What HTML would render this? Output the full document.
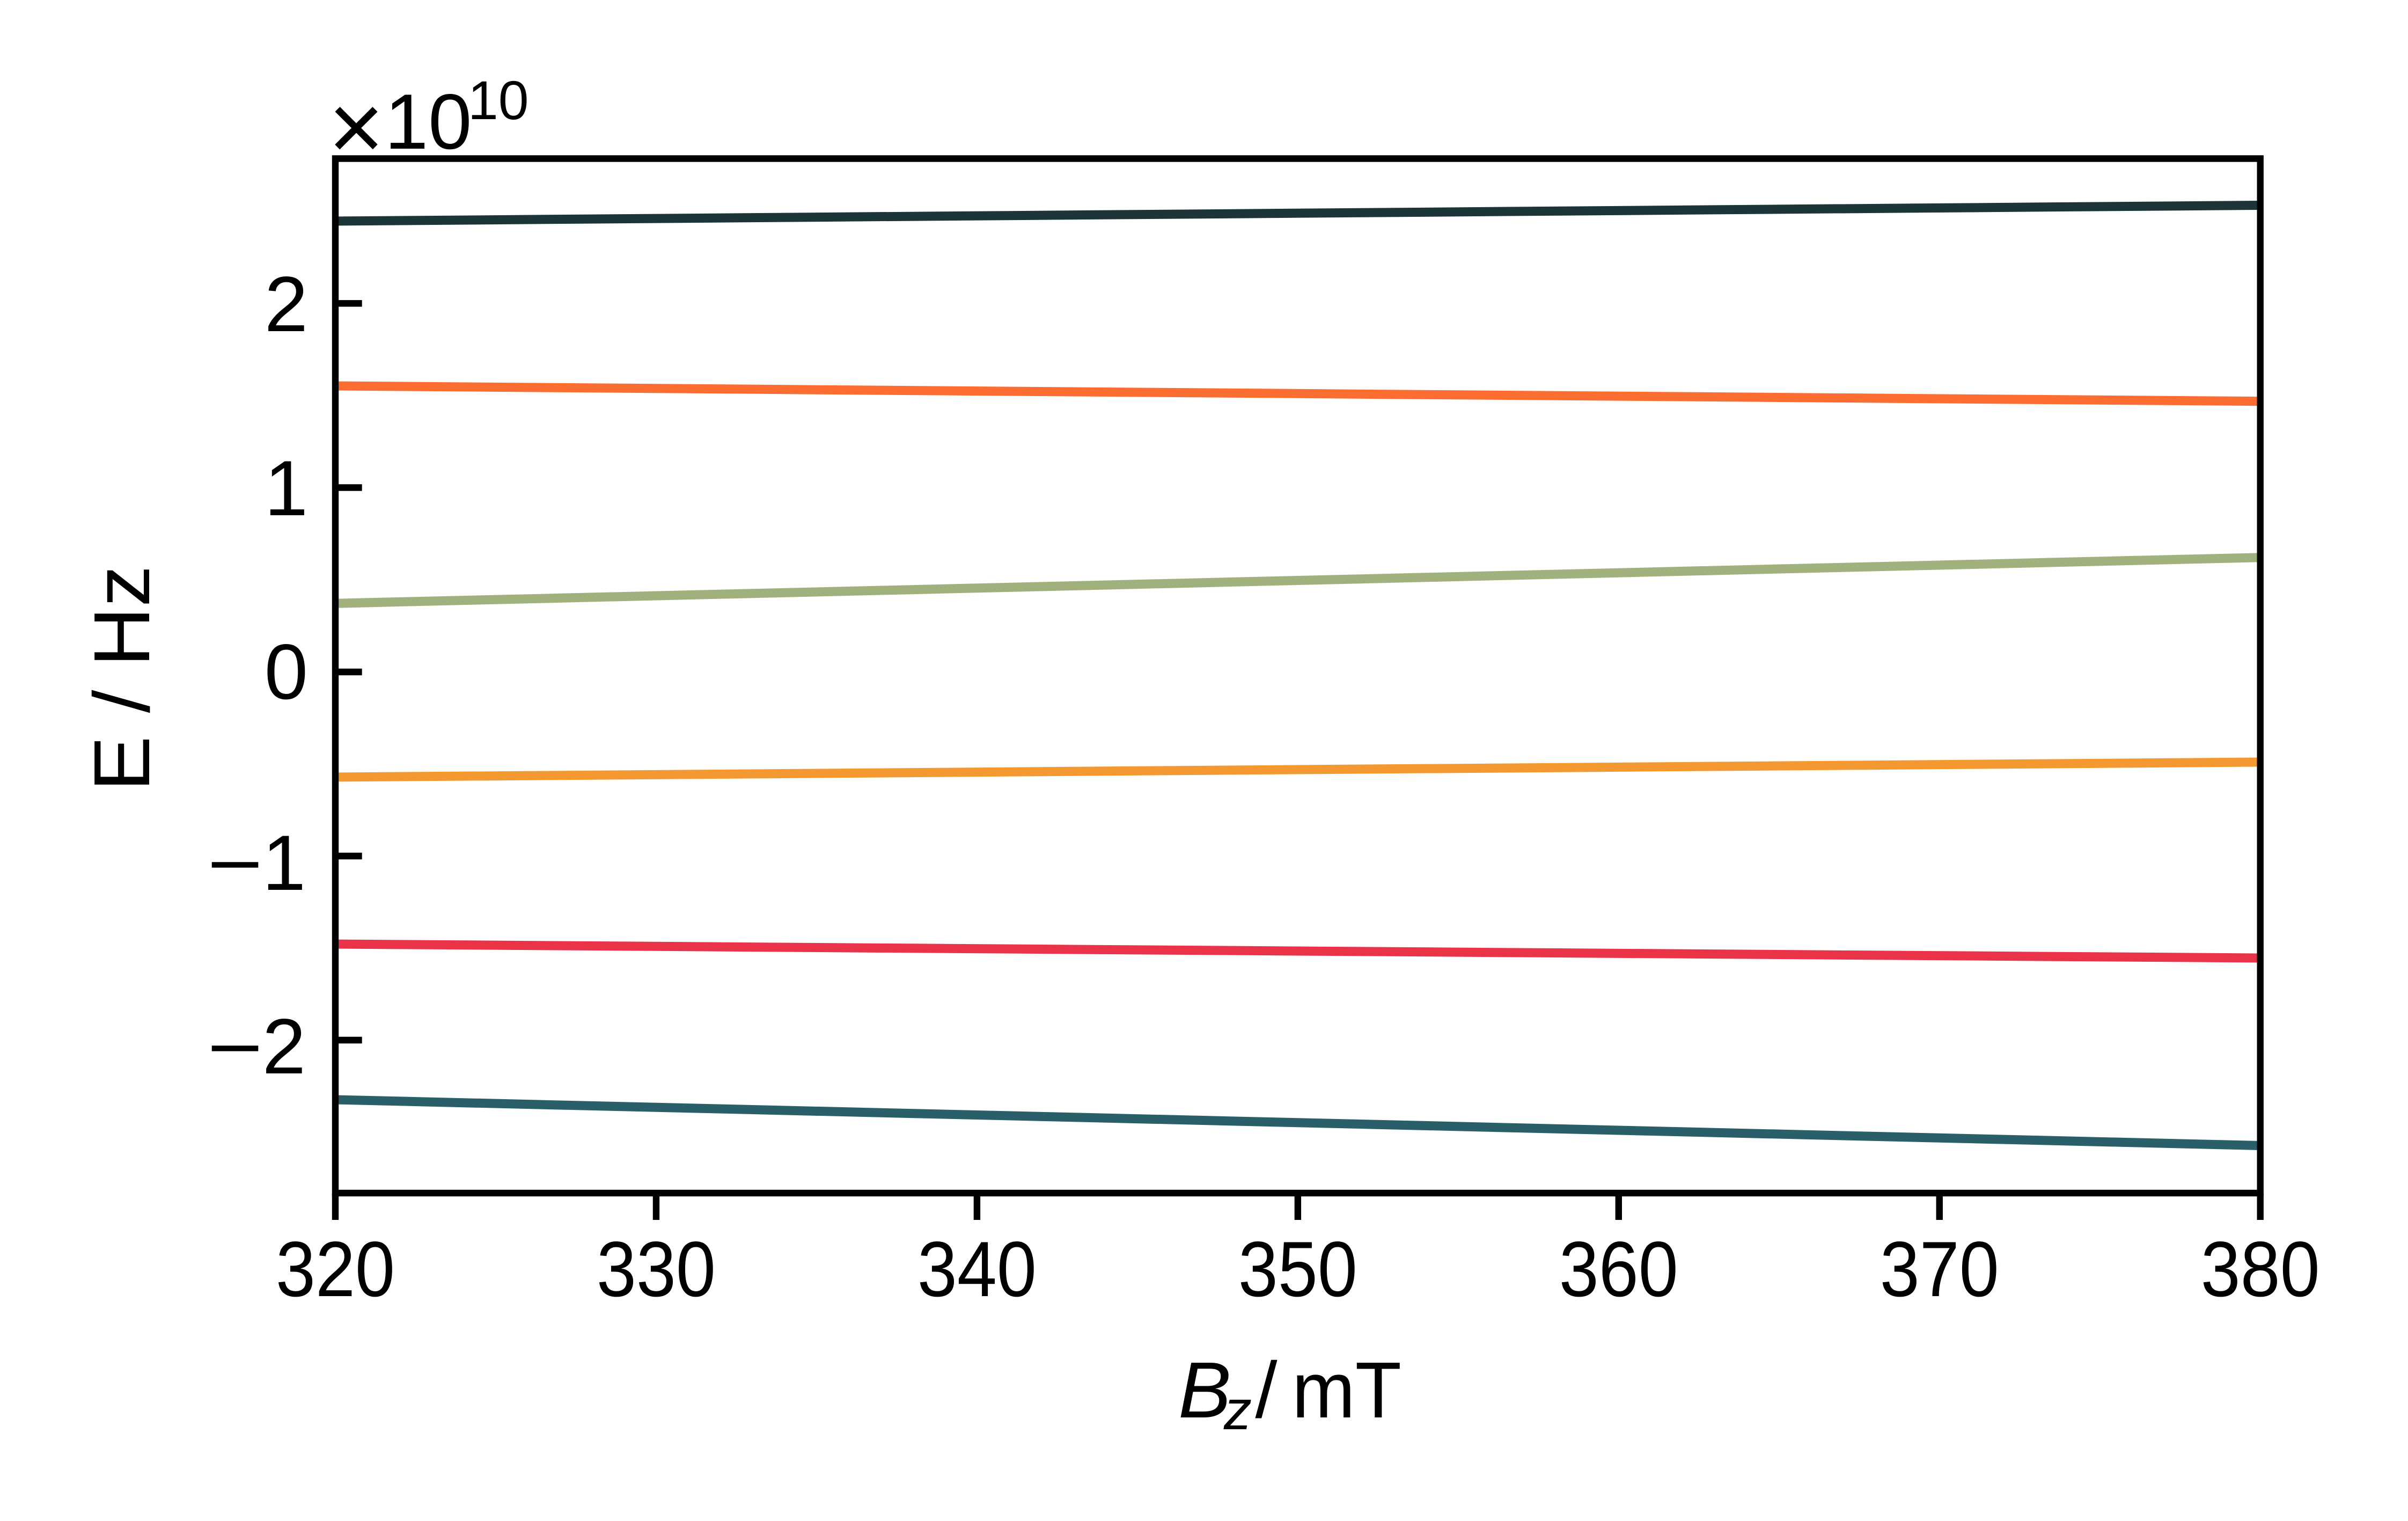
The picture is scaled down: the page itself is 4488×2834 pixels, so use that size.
<!DOCTYPE html>
<html>
<head>
<meta charset="utf-8">
<style>
  html, body { margin: 0; padding: 0; background: #ffffff; }
  svg { display: block; }
  text { font-family: "Liberation Sans", "DejaVu Sans", sans-serif; fill: #000; }
</style>
</head>
<body>
<svg xmlns="http://www.w3.org/2000/svg" width="4488" height="2834" viewBox="0 0 4488 2834">
  <rect x="0" y="0" width="4488" height="2834" fill="#ffffff"/>
  <defs>
    <clipPath id="plotclip">
      <rect x="625" y="295.5" width="3587.7" height="1927.5"/>
    </clipPath>
  </defs>

  <!-- data lines -->
  <g clip-path="url(#plotclip)" stroke-width="17" fill="none" stroke-linecap="butt">
    <line x1="625" y1="412" x2="4212.7" y2="382.5" stroke="#1b3539"/>
    <line x1="625" y1="719" x2="4212.7" y2="747.7" stroke="#fc6d32"/>
    <line x1="625" y1="1124.3" x2="4212.7" y2="1038.7" stroke="#a1b17e"/>
    <line x1="625" y1="1448" x2="4212.7" y2="1420" stroke="#f49932"/>
    <line x1="625" y1="1759" x2="4212.7" y2="1785" stroke="#e83349"/>
    <line x1="625" y1="2049" x2="4212.7" y2="2134.5" stroke="#2a5f69"/>
  </g>

  <!-- y ticks (inward) -->
  <g stroke="#000" stroke-width="12.4">
    <line x1="625" y1="565.3" x2="674.7" y2="565.3"/>
    <line x1="625" y1="908.5" x2="674.7" y2="908.5"/>
    <line x1="625" y1="1252" x2="674.7" y2="1252"/>
    <line x1="625" y1="1595" x2="674.7" y2="1595"/>
    <line x1="625" y1="1938" x2="674.7" y2="1938"/>
  </g>

  <!-- x ticks (outward) -->
  <g stroke="#000" stroke-width="12.4">
    <line x1="625" y1="2223" x2="625" y2="2273"/>
    <line x1="1222.95" y1="2223" x2="1222.95" y2="2273"/>
    <line x1="1820.9" y1="2223" x2="1820.9" y2="2273"/>
    <line x1="2418.85" y1="2223" x2="2418.85" y2="2273"/>
    <line x1="3016.8" y1="2223" x2="3016.8" y2="2273"/>
    <line x1="3614.75" y1="2223" x2="3614.75" y2="2273"/>
    <line x1="4212.7" y1="2223" x2="4212.7" y2="2273"/>
  </g>

  <!-- spines -->
  <rect x="625" y="295.5" width="3587.7" height="1927.5" fill="none" stroke="#000" stroke-width="12.4" stroke-linejoin="miter"/>

  <!-- x tick labels -->
  <g font-size="146" text-anchor="middle">
    <text x="625" y="2415" textLength="222" lengthAdjust="spacingAndGlyphs">320</text>
    <text x="1222.95" y="2415" textLength="222" lengthAdjust="spacingAndGlyphs">330</text>
    <text x="1820.9" y="2415" textLength="222" lengthAdjust="spacingAndGlyphs">340</text>
    <text x="2418.85" y="2415" textLength="222" lengthAdjust="spacingAndGlyphs">350</text>
    <text x="3016.8" y="2415" textLength="222" lengthAdjust="spacingAndGlyphs">360</text>
    <text x="3614.75" y="2415" textLength="222" lengthAdjust="spacingAndGlyphs">370</text>
    <text x="4212.7" y="2415" textLength="222" lengthAdjust="spacingAndGlyphs">380</text>
  </g>

  <!-- y tick labels -->
  <g font-size="146">
    <text x="574" y="617" text-anchor="end">2</text>
    <text x="574" y="960" text-anchor="end">1</text>
    <text x="574" y="1302" text-anchor="end">0</text>
    <text x="386" y="1660" textLength="104" lengthAdjust="spacingAndGlyphs">−</text>
    <text x="570" y="1658" text-anchor="end">1</text>
    <text x="386" y="2002" textLength="104" lengthAdjust="spacingAndGlyphs">−</text>
    <text x="570" y="2000" text-anchor="end">2</text>
  </g>

  <!-- offset text ×10^10 -->
  <text x="612" y="298" font-size="178">×</text>
  <text x="717" y="277" font-size="146">10</text>
  <text x="872" y="222" font-size="102">10</text>

  <!-- x axis label -->
  <text x="2196" y="2641" font-size="148" font-style="italic">B</text>
  <text x="2281" y="2663" font-size="104" font-style="italic">z</text>
  <text x="2360" y="2641" font-size="148" text-anchor="middle">/</text>
  <text x="2408" y="2641" font-size="148" textLength="204" lengthAdjust="spacingAndGlyphs">mT</text>

  <!-- y axis label -->
  <text transform="translate(278,1264) rotate(-90)" font-size="148" text-anchor="middle" textLength="421" lengthAdjust="spacingAndGlyphs">E / Hz</text>
</svg>
</body>
</html>
